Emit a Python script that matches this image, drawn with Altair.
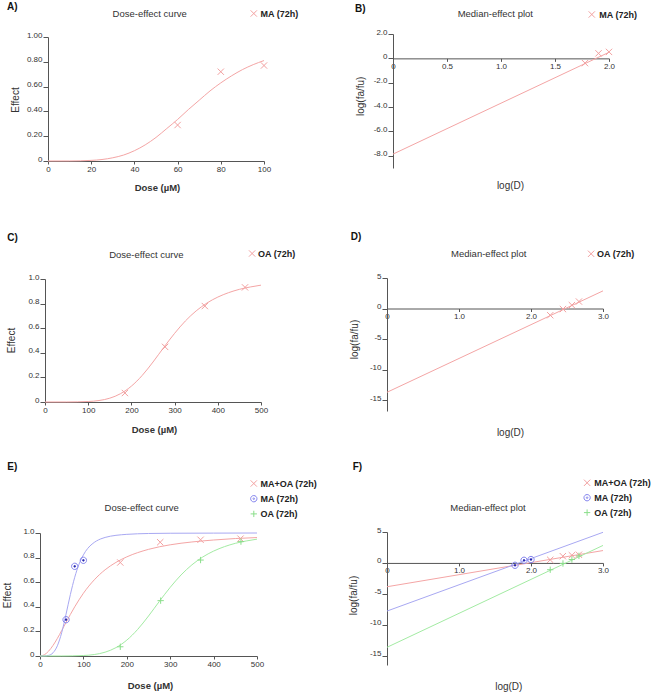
import altair as alt
import pandas as pd

FONT = "Liberation Sans"
AXIS_COLOR = "#555555"
TEXT_COLOR = "#333333"

X_SHAPE = "M-1,-1L1,1M-1,1L1,-1"
PLUS_SHAPE = "M-1,0L1,0M0,-1L0,1"
CIRCLE_DOT = ("M-1,0A1,1,0,1,0,1,0A1,1,0,1,0,-1,0Z"
              "M-0.25,0A0.25,0.25,0,1,0,0.25,0A0.25,0.25,0,1,0,-0.25,0Z")

RED_LINE, BLUE_LINE, GREEN_LINE = "#f4a5a5", "#a8a8f2", "#a3eba3"
RED_MARK, BLUE_MARK, GREEN_MARK = "#f2a0a0", "#8484ee", "#8bde8b"
DOT_COLOR = "#2a2aa8"

# ---------------- data ----------------
# A) Dose-effect curve, MA (72h)
a_names = ["MA (72h)"]
a_pts_dose = [60, 80, 100]
a_pts_effect = [0.29, 0.72, 0.77]
a_curve_dose = [0, 10, 20, 25, 30, 35, 40, 45, 50, 55, 60, 65, 70, 75, 80, 85, 90, 95, 100]
a_curve_effect = [0, 0.0002, 0.005, 0.012, 0.026, 0.048, 0.083, 0.13, 0.19, 0.262, 0.335,
                  0.415, 0.49, 0.565, 0.63, 0.687, 0.737, 0.777, 0.81]

# B) Median-effect plot, MA (72h)
b_names = ["MA (72h)"]
b_pts_logd = [1.778, 1.903, 2.0]
b_pts_val = [-0.39, 0.41, 0.53]
b_line_logd = [0, 2.0]
b_line_val = [-7.86, 0.50]

# C) Dose-effect curve, OA (72h)
c_names = ["OA (72h)"]
c_pts_dose = [185, 278, 370, 463]
c_pts_effect = [0.073, 0.448, 0.78, 0.932]
c_curve_dose = [0, 50, 100, 125, 150, 175, 200, 225, 250, 275, 300, 325, 350, 375, 400,
                425, 450, 475, 500]
c_curve_effect = [0, 0.0001, 0.004, 0.012, 0.031, 0.068, 0.129, 0.216, 0.325, 0.444, 0.558,
                  0.659, 0.741, 0.805, 0.853, 0.889, 0.916, 0.935, 0.95]

# D) Median-effect plot, OA (72h)
d_names = ["OA (72h)"]
d_pts_logd = [2.267, 2.444, 2.568, 2.666]
d_pts_val = [-1.10, -0.09, 0.55, 1.14]
d_line_logd = [0, 3.0]
d_line_val = [-13.73, 2.89]

# E) Dose-effect curve, all three
e_names = ["MA+OA (72h)", "MA (72h)", "OA (72h)"]
e_combo_dose = [185, 277, 370, 462]
e_combo_effect = [0.76, 0.925, 0.945, 0.954]
e_ma_dose = [60, 80, 100]
e_ma_effect = [0.295, 0.729, 0.778]
e_oa_dose = [185, 278, 370, 463]
e_oa_effect = [0.075, 0.45, 0.78, 0.93]
e_combo_curve_dose = [0, 10, 20, 30, 40, 50, 60, 70, 80, 90, 100, 125, 150, 175, 200, 250,
                      300, 350, 400, 450, 500]
e_combo_curve_effect = [0, 0.010, 0.040, 0.086, 0.143, 0.207, 0.273, 0.338, 0.40, 0.457, 0.51,
                        0.619, 0.701, 0.761, 0.806, 0.867, 0.904, 0.927, 0.943, 0.955, 0.963]
e_ma_curve_dose = [0, 10, 20, 30, 40, 50, 60, 70, 80, 90, 100, 110, 120, 130, 140, 150, 175,
                   200, 250, 300, 400, 500]
e_ma_curve_effect = [0, 0.0002, 0.005, 0.026, 0.083, 0.19, 0.34, 0.5, 0.64, 0.747, 0.822,
                     0.875, 0.910, 0.935, 0.952, 0.964, 0.981, 0.989, 0.996, 0.998, 0.999, 1.0]
e_oa_curve_dose = [0, 50, 100, 125, 150, 175, 200, 225, 250, 275, 300, 325, 350, 375, 400,
                   425, 450, 475, 500]
e_oa_curve_effect = [0, 0.0001, 0.004, 0.012, 0.031, 0.068, 0.129, 0.216, 0.325, 0.444, 0.558,
                     0.659, 0.741, 0.805, 0.853, 0.889, 0.916, 0.935, 0.95]

# F) Median-effect plot, all three
f_names = ["MA+OA (72h)", "MA (72h)", "OA (72h)"]
f_combo_logd = [2.267, 2.442, 2.568, 2.665]
f_combo_val = [0.50, 1.09, 1.24, 1.32]
f_ma_logd = [1.778, 1.903, 2.0]
f_ma_val = [-0.38, 0.43, 0.55]
f_oa_logd = [2.267, 2.444, 2.568, 2.666]
f_oa_val = [-1.10, -0.09, 0.55, 1.14]
f_combo_line_logd = [0, 3.0]
f_combo_line_val = [-3.85, 2.0]
f_ma_line_logd = [0, 3.0]
f_ma_line_val = [-7.78, 4.95]
f_oa_line_logd = [0, 3.0]
f_oa_line_val = [-13.64, 2.83]

# axis ticks
dose_ticks_a = [0, 20, 40, 60, 80, 100]
dose_ticks_c = [0, 100, 200, 300, 400, 500]
effect_ticks = [0, 0.2, 0.4, 0.6, 0.8, 1.0]
logd_ticks_b = [0, 0.5, 1.0, 1.5, 2.0]
logd_ticks_d = [0, 1.0, 2.0, 3.0]
me_ticks_b = [-8, -6, -4, -2, 0, 2]
me_ticks_d = [-15, -10, -5, 0, 5]

titles = ["Dose-effect curve", "Median-effect plot"]
letters = ["A)", "B)", "C)", "D)", "E)", "F)"]


def long_df(names, xs_list, ys_list):
    frames = [pd.DataFrame({"s": n, "x": xs, "y": ys})
              for n, xs, ys in zip(names, xs_list, ys_list)]
    return pd.concat(frames, ignore_index=True)


FMT_INT = "'' + datum.value"
FMT_2F = "datum.value == 0 ? '0' : format(datum.value, '.2f')"
FMT_1F = "datum.value == 0 ? '0' : (datum.value < 0 ? '-' + format(-datum.value, '.1f') : format(datum.value, '.1f'))"
FMT_SIGNED_INT = "datum.value < 0 ? '-' + (-datum.value) : '' + datum.value"


def build(p):
    xs = alt.Scale(domain=p["xdom"], range=p["xrng"], nice=False, zero=False)
    ys = alt.Scale(domain=p["ydom"], range=p["yrng"], nice=False, zero=False)
    xoff = 0
    if p["median"]:
        bottom, top = p["yrng"]
        zero_px = top + (bottom - top) * (p["ydom"][1] - 0) / (p["ydom"][1] - p["ydom"][0])
        xoff = -(p["height"] - zero_px)
    xaxis = alt.Axis(values=p["xticks"], labelExpr=p["xfmt"], tickSize=3, labelPadding=1,
                     labelBaseline="top", labelFlush=False, labelOverlap=False,
                     title=p["xtitle"], titleX=p["xt"][0], titleY=p["xt"][1],
                     titleAlign="center", titleBaseline="middle", titleAngle=0,
                     titleFontWeight=p["xtw"], titleFontSize=p["xtfs"], offset=xoff)
    yaxis = alt.Axis(values=p["yticks"], labelExpr=p["yfmt"], tickSize=5, labelPadding=1,
                     labelBaseline="alphabetic", labelFlush=False, labelOverlap=False,
                     title=p["ytitle"], titleX=p["yt"][0], titleY=p["yt"][1], titleAngle=270,
                     titleAlign="center", titleBaseline="middle", offset=p["yoff"])
    names = p["names"]
    legend = alt.Legend(title=None, orient="none", legendX=p["leg"][0] - 2.5, legendY=p["leg"][1],
                        labelFont=FONT, labelFontSize=9, labelFontWeight="bold",
                        labelColor="#222222", symbolSize=40, symbolStrokeWidth=1,
                        labelOffset=p["leg"][2] - 1.5, rowPadding=p["leg"][3], padding=0)
    X = alt.X("x:Q", scale=xs, axis=xaxis)
    Y = alt.Y("y:Q", scale=ys, axis=yaxis)
    layers = []
    # one fitted line per series, each in its own colour
    for name, col in zip(names, p["line_colors"]):
        sub = p["curves"][p["curves"]["s"] == name]
        layers.append(
            alt.Chart(sub).mark_line(strokeWidth=1, interpolate=p["interp"], color=col).encode(x=X, y=Y)
        )
    pts = alt.Chart(p["points"]).mark_point(filled=False, size=40, strokeWidth=1, opacity=1).encode(
        x=X, y=Y,
        color=alt.Color("s:N", scale=alt.Scale(domain=names, range=p["mark_colors"]), legend=legend),
        shape=alt.Shape("s:N", scale=alt.Scale(domain=names, range=p["shapes"]), legend=legend),
    )
    layers.append(pts)
    if p.get("dots") is not None:
        dots = alt.Chart(p["dots"]).mark_point(filled=True, size=5, opacity=1, color=DOT_COLOR).encode(
            x=X, y=Y,
        )
        layers.append(dots)
    title = alt.Chart(pd.DataFrame({"t": [p["title"]]})).mark_text(
        font=FONT, fontSize=9.5, color=TEXT_COLOR, align="center", baseline="middle"
    ).encode(text="t:N", x=alt.value(p["tpos"][0]), y=alt.value(p["tpos"][1]))
    letter = alt.Chart(pd.DataFrame({"t": [p["letter"]]})).mark_text(
        font=FONT, fontSize=10, fontWeight="bold", color="#111111", align="left", baseline="middle"
    ).encode(text="t:N", x=alt.value(p["lpos"][0]), y=alt.value(p["lpos"][1]))
    layers += [title, letter]
    return alt.layer(*layers).properties(width=p["width"], height=p["height"])


panel_a = build(dict(
    median=False, names=a_names, line_colors=[RED_LINE], mark_colors=[RED_MARK], shapes=[X_SHAPE],
    curves=long_df(a_names, [a_curve_dose], [a_curve_effect]),
    points=long_df(a_names, [a_pts_dose], [a_pts_effect]),
    xdom=[0, 100], xrng=[8, 224], ydom=[0, 1], yrng=[127, 3], width=224, height=127, yoff=-8,
    xticks=dose_ticks_a, xfmt=FMT_INT, yticks=effect_ticks, yfmt=FMT_2F,
    xtitle="Dose (\u00b5M)", xt=[117, 26], xtw="bold", xtfs=9.5,
    ytitle="Effect", yt=[-33, 65.5], interp="monotone",
    leg=[211.8, -25, 3.8, 4], title=titles[0], tpos=[109.7, -20.2], letter=letters[0], lpos=[-33, -26.8],
))

panel_b = build(dict(
    median=True, names=b_names, line_colors=[RED_LINE], mark_colors=[RED_MARK], shapes=[X_SHAPE],
    curves=long_df(b_names, [b_line_logd], [b_line_val]),
    points=long_df(b_names, [b_pts_logd], [b_pts_val]),
    xdom=[0, 2.0], xrng=[6, 222], ydom=[-9, 2], yrng=[134, 0], width=222, height=134, yoff=-6,
    xticks=logd_ticks_b, xfmt=FMT_1F, yticks=me_ticks_b, yfmt=FMT_1F,
    xtitle="log(D)", xt=[123, 127.3], xtw="normal", xtfs=10,
    ytitle="log(fa/fu)", yt=[-33, 61.8], interp="linear",
    leg=[202.8, -24, 4.5, 4], title=titles[1], tpos=[108.3, -20.2], letter=letters[1], lpos=[-32, -25.2],
))

panel_c = build(dict(
    median=False, names=c_names, line_colors=[RED_LINE], mark_colors=[RED_MARK], shapes=[X_SHAPE],
    curves=long_df(c_names, [c_curve_dose], [c_curve_effect]),
    points=long_df(c_names, [c_pts_dose], [c_pts_effect]),
    xdom=[0, 500], xrng=[5, 221], ydom=[0, 1], yrng=[124, 1], width=221, height=124, yoff=-5,
    xticks=dose_ticks_c, xfmt=FMT_INT, yticks=effect_ticks, yfmt=FMT_1F,
    xtitle="Dose (\u00b5M)", xt=[114, 27], xtw="bold", xtfs=9.5,
    ytitle="Effect", yt=[-33.3, 62], interp="monotone",
    leg=[210.1, -29, 3, 4], title=titles[0], tpos=[106.3, -23.5], letter=letters[2], lpos=[-32.7, -40.2],
))

panel_d = build(dict(
    median=True, names=d_names, line_colors=[RED_LINE], mark_colors=[RED_MARK], shapes=[X_SHAPE],
    curves=long_df(d_names, [d_line_logd], [d_line_val]),
    points=long_df(d_names, [d_pts_logd], [d_pts_val]),
    xdom=[0, 3.0], xrng=[0, 216], ydom=[-16.8, 5], yrng=[133, 0], width=216, height=144, yoff=0,
    xticks=logd_ticks_d, xfmt=FMT_1F, yticks=me_ticks_d, yfmt=FMT_SIGNED_INT,
    xtitle="log(D)", xt=[123, 124.2], xtw="normal", xtfs=10,
    ytitle="log(fa/fu)", yt=[-33, 61], interp="linear",
    leg=[202.1, -28.7, 3, 4], title=titles[1], tpos=[101.7, -24.2], letter=letters[3], lpos=[-36.3, -40.8],
))

panel_e = build(dict(
    median=False, names=e_names, line_colors=[RED_LINE, BLUE_LINE, GREEN_LINE],
    mark_colors=[RED_MARK, BLUE_MARK, GREEN_MARK], shapes=[X_SHAPE, CIRCLE_DOT, PLUS_SHAPE],
    curves=long_df(e_names, [e_combo_curve_dose, e_ma_curve_dose, e_oa_curve_dose],
                   [e_combo_curve_effect, e_ma_curve_effect, e_oa_curve_effect]),
    points=long_df(e_names, [e_combo_dose, e_ma_dose, e_oa_dose],
                   [e_combo_effect, e_ma_effect, e_oa_effect]),
    dots=long_df(["MA (72h)"], [e_ma_dose], [e_ma_effect]),
    xdom=[0, 500], xrng=[0, 217], ydom=[0, 1], yrng=[124, 1], width=217, height=124, yoff=0,
    xticks=dose_ticks_c, xfmt=FMT_INT, yticks=effect_ticks, yfmt=FMT_1F,
    xtitle="Dose (\u00b5M)", xt=[110, 29], xtw="bold", xtfs=9.5,
    ytitle="Effect", yt=[-32.5, 63], interp="monotone",
    leg=[211.8, -53, 3.6, 4.2], title=titles[0], tpos=[101.7, -23.8], letter=letters[4], lpos=[-32.7, -65.5],
))

panel_f = build(dict(
    median=True, names=f_names, line_colors=[RED_LINE, BLUE_LINE, GREEN_LINE],
    mark_colors=[RED_MARK, BLUE_MARK, GREEN_MARK], shapes=[X_SHAPE, CIRCLE_DOT, PLUS_SHAPE],
    curves=long_df(f_names, [f_combo_line_logd, f_ma_line_logd, f_oa_line_logd],
                   [f_combo_line_val, f_ma_line_val, f_oa_line_val]),
    points=long_df(f_names, [f_combo_logd, f_ma_logd, f_oa_logd],
                   [f_combo_val, f_ma_val, f_oa_val]),
    dots=long_df(["MA (72h)"], [f_ma_logd], [f_ma_val]),
    xdom=[0, 3.0], xrng=[0, 216], ydom=[-16.5, 5], yrng=[133, 0], width=216, height=133, yoff=0,
    xticks=logd_ticks_d, xfmt=FMT_1F, yticks=me_ticks_d, yfmt=FMT_SIGNED_INT,
    xtitle="log(D)", xt=[121.3, 123.8], xtw="normal", xtfs=10,
    ytitle="log(fa/fu)", yt=[-33.7, 63], interp="linear",
    leg=[198.1, -53.7, 4.2, 3.9], title=titles[1], tpos=[101, -23.8], letter=letters[5], lpos=[-34.3, -64.8],
))

chart = alt.concat(
    panel_a, panel_b, panel_c, panel_d, panel_e, panel_f,
    columns=2, spacing={"row": 110, "column": 123}, bounds="flush", align="each",
).resolve_scale(
    color="independent", shape="independent",
).resolve_legend(
    color="independent", shape="independent",
).properties(
    autosize=alt.AutoSizeParams(type="none"),
    padding={"left": 40, "top": 34, "right": 615, "bottom": 660},
    background="white",
).configure_view(
    stroke=None,
).configure_axis(
    grid=False, labelFont=FONT, titleFont=FONT, labelFontSize=8, titleFontSize=10,
    labelColor=TEXT_COLOR, titleColor=TEXT_COLOR, domainColor=AXIS_COLOR, tickColor=AXIS_COLOR,
    titleFontWeight="normal", domainWidth=1, tickWidth=1,
)

chart.save("out.html", embed_options={"renderer": "svg", "actions": False})
